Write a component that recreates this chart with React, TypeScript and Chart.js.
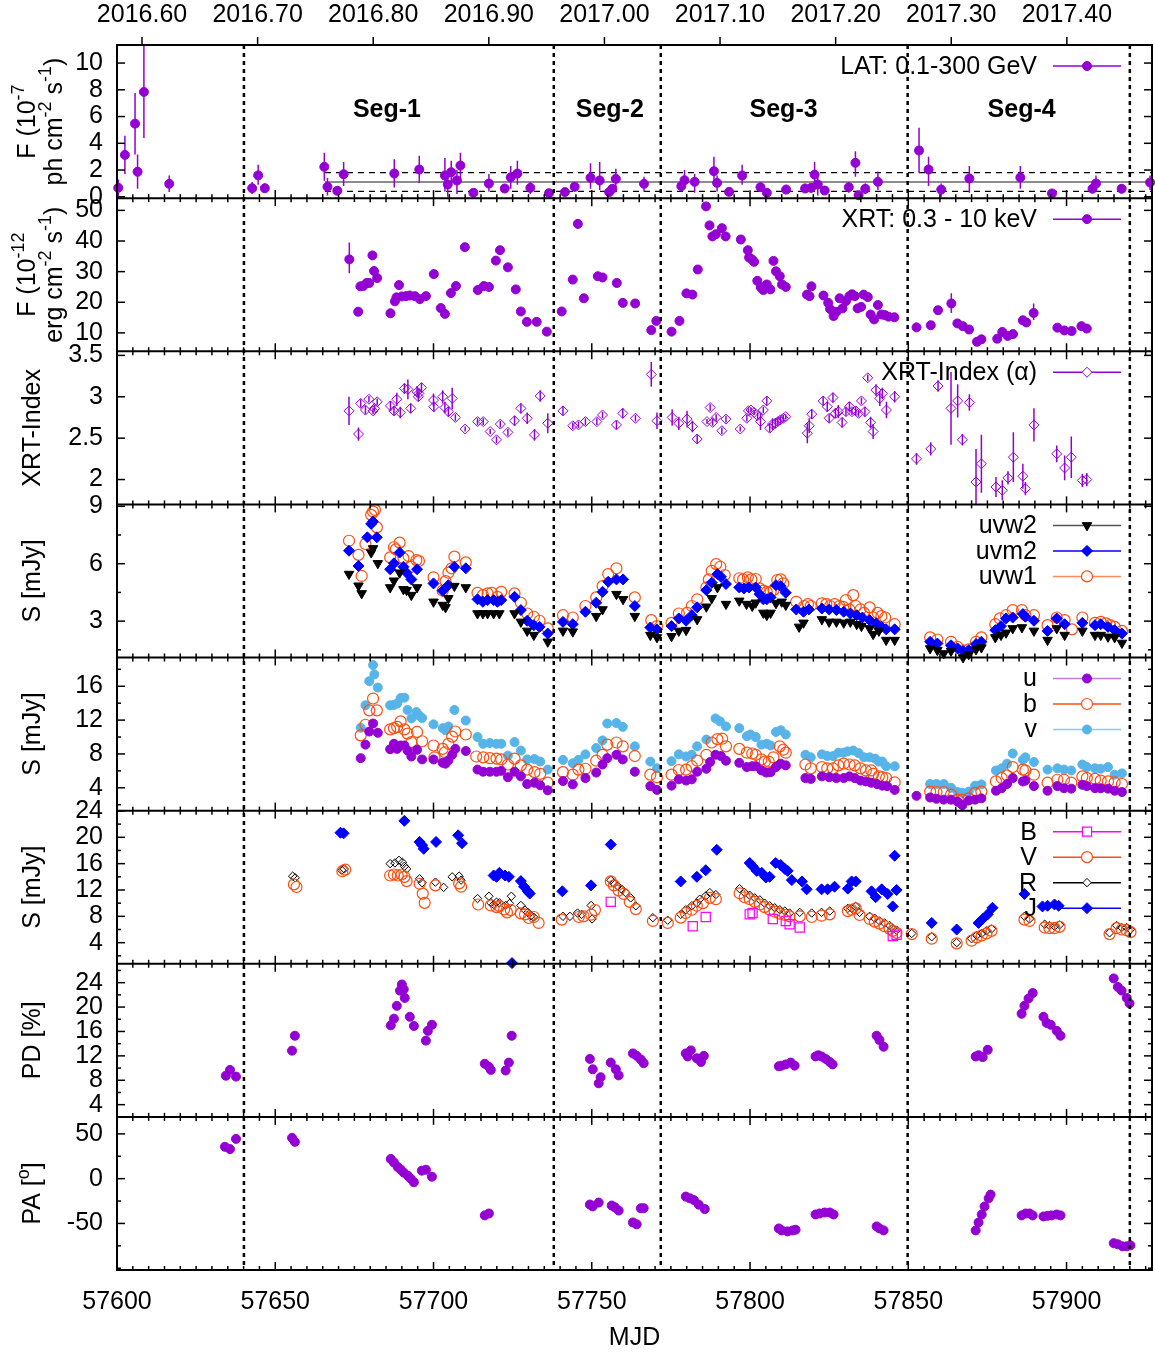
import React, { useEffect, useRef } from 'react';
import { Chart, registerables } from 'chart.js';

Chart.register(...registerables);

const W = 1155;
const H = 1354;
const FONT = '"Liberation Sans", Arial, Helvetica, sans-serif';
const FS = 25;

// ---------- axes ----------
const X_MIN = 57600;
const X_MAX = 57927;
const X_MAJOR = [57600, 57650, 57700, 57750, 57800, 57850, 57900];
const X_MINOR_STEP = 5;
const YEAR_TICKS = [2016.6, 2016.7, 2016.8, 2016.9, 2017.0, 2017.1, 2017.2, 2017.3, 2017.4];
const MJD_2017 = 57754;
const SEG_BOUNDS = [57640.1, 57738.0, 57771.8, 57849.8, 57920.0];
const SEG_LABELS = ['Seg-1', 'Seg-2', 'Seg-3', 'Seg-4'];
const SEG_LABEL_MJD = [57685.3, 57755.7, 57810.6, 57885.8];
const SEG_LABEL_Y = 6.5;
const LAT_BAND_START = 57665.7;
const LAT_MEAN = 1.1;
const LAT_UPPER = 1.8;
const LAT_LOWER = 0.4;

// ---------- data ----------
// [MJD, flux, low, high]
const LAT = [
  [57600.4, 0.67, 0.0, 1.3], [57602.5, 3.13, 1.7, 4.57], [57605.7, 5.47, 3.16, 7.76], [57606.5, 1.87, 0.6, 3.16],
  [57608.5, 7.84, 4.4, 11.4], [57616.5, 0.97, 0.35, 1.6], [57642.7, 0.64, 0.2, 1.1], [57644.6, 1.6, 0.9, 2.4],
  [57646.7, 0.64, 0.3, 1.0], [57665.5, 2.24, 1.2, 3.3], [57666.5, 0.75, 0.1, 1.4], [57669.6, 0.45, 0.2, 0.7],
  [57671.6, 1.69, 0.8, 2.6], [57687.6, 1.74, 0.7, 2.8], [57695.5, 2.04, 1.04, 3.06], [57703.6, 1.59, 0.4, 2.9],
  [57704.5, 0.92, 0.0, 1.9], [57705.6, 1.84, 0.9, 2.7], [57707.4, 1.22, 0.2, 2.0], [57708.5, 2.34, 1.2, 3.3],
  [57712.6, 0.3, 0.1, 0.5], [57717.5, 0.99, 0.4, 1.7], [57722.5, 0.62, 0.3, 0.9], [57724.4, 1.46, 0.6, 2.3],
  [57726.5, 1.74, 0.9, 2.7], [57730.6, 0.67, 0.2, 1.1], [57736.5, 0.27, 0.1, 0.4], [57741.5, 0.35, 0.2, 0.5],
  [57744.6, 0.75, 0.4, 1.1], [57749.6, 1.42, 0.6, 2.5], [57752.5, 1.22, 0.5, 2.6], [57755.5, 0.35, 0.2, 0.5],
  [57756.5, 0.6, 0.3, 0.9], [57757.6, 1.34, 0.6, 2.1], [57766.5, 0.97, 0.4, 1.5], [57778.3, 0.8, 0.4, 1.2],
  [57779.3, 1.24, 0.6, 2.0], [57782.5, 1.12, 0.3, 1.7], [57788.6, 1.91, 0.8, 3.0], [57789.6, 1.04, 0.4, 1.6],
  [57793.4, 0.37, 0.2, 0.6], [57797.5, 1.59, 0.9, 2.4], [57803.3, 0.72, 0.4, 1.1], [57805.3, 0.3, 0.1, 0.5],
  [57811.4, 0.54, 0.2, 0.9], [57817.4, 0.62, 0.3, 1.0], [57819.3, 0.67, 0.3, 1.0], [57820.4, 1.66, 0.9, 2.6],
  [57821.4, 0.92, 0.1, 1.5], [57823.6, 0.47, 0.2, 0.8], [57831.2, 0.72, 0.3, 1.1], [57833.3, 2.54, 1.5, 3.4],
  [57834.3, 0.12, 0.0, 0.3], [57836.4, 0.6, 0.2, 1.0], [57840.4, 1.12, 0.5, 1.9], [57853.4, 3.46, 1.79, 5.17],
  [57856.4, 2.04, 0.8, 3.0], [57860.4, 0.54, 0.0, 1.0], [57869.3, 1.37, 0.3, 2.3], [57885.4, 1.44, 0.6, 2.3],
  [57895.4, 0.25, 0.1, 0.4], [57908.2, 0.6, 0.3, 0.9], [57909.3, 0.99, 0.5, 1.6], [57917.4, 0.6, 0.3, 0.9],
  [57926.4, 1.07, 0.5, 1.6],
];

// [MJD, flux(1e-12)] (+ low, high where the error bar is visible)
const XRT = [
  [57673.4, 34.0, 29.5, 39.5], [57676.2, 16.9], [57676.9, 25.2], [57677.8, 25.3], [57678.9, 26.3], [57679.7, 26.3],
  [57680.7, 35.3], [57681.2, 30.2], [57682.2, 27.9], [57686.4, 16.4], [57687.8, 20.3], [57688.3, 21.6],
  [57689.1, 25.6], [57690.0, 21.9], [57691.3, 22.0], [57692.5, 22.2], [57694.1, 22.0], [57695.7, 21.0],
  [57697.6, 22.0], [57700.1, 29.2], [57702.3, 18.1], [57703.6, 16.2], [57705.5, 23.0], [57707.1, 25.3],
  [57709.9, 38.0], [57714.0, 24.0], [57715.9, 25.3], [57717.5, 25.0], [57719.7, 33.6], [57721.0, 37.0],
  [57723.5, 31.4], [57726.0, 24.2], [57727.6, 17.0], [57729.5, 13.6], [57732.6, 13.6], [57735.8, 10.4],
  [57740.5, 17.0], [57744.0, 27.4], [57745.6, 45.6, 44.0, 47.2], [57747.5, 21.3], [57751.9, 28.5], [57753.4, 28.1],
  [57757.9, 26.3], [57759.8, 19.8], [57763.7, 19.6], [57768.8, 10.9], [57770.4, 13.9], [57775.2, 10.4],
  [57777.7, 13.9], [57779.9, 22.9], [57781.8, 22.5], [57783.5, 30.7], [57786.1, 51.3], [57787.2, 45.1],
  [57788.1, 41.5], [57789.2, 42.2], [57791.1, 44.2], [57792.3, 41.5], [57797.1, 40.5], [57799.3, 37.0],
  [57799.7, 34.6], [57800.6, 34.0], [57801.3, 33.2], [57802.3, 27.0], [57803.4, 24.9], [57804.2, 24.0],
  [57805.3, 25.8], [57806.4, 24.2], [57807.4, 33.5], [57808.2, 30.1], [57809.4, 28.5], [57810.1, 25.8],
  [57811.3, 25.0], [57818.0, 22.5], [57818.8, 22.0], [57819.4, 25.2], [57823.2, 22.2], [57824.7, 19.8],
  [57825.3, 17.8], [57826.4, 15.5], [57827.3, 16.9], [57828.3, 21.3], [57829.2, 18.0], [57830.3, 20.4],
  [57831.4, 22.0], [57832.2, 22.6], [57833.1, 22.0], [57834.0, 18.0], [57835.1, 18.5], [57835.9, 22.5],
  [57837.2, 21.7], [57838.1, 16.0], [57839.2, 14.4], [57840.4, 19.1], [57841.5, 16.0], [57842.6, 15.8],
  [57843.7, 15.3], [57845.6, 15.1], [57852.6, 11.8], [57857.1, 12.5], [57859.4, 17.4], [57863.6, 19.6, 16.5, 22.9],
  [57865.5, 13.1], [57867.2, 12.2], [57869.2, 11.1], [57871.7, 7.1], [57873.1, 7.9], [57878.1, 8.1],
  [57879.7, 10.3], [57881.4, 9.0], [57883.1, 9.6], [57886.2, 14.1], [57887.3, 13.4], [57889.6, 16.5, 14.2, 19.6],
  [57897.1, 11.7], [57899.3, 10.8], [57901.6, 10.6], [57904.7, 12.2], [57906.4, 11.4],
];

// [MJD, index, error]
const XRT_INDEX = [
  [57673.3, 2.83, 0.17], [57676.3, 2.55, 0.08], [57677.0, 2.92, 0.05], [57678.5, 2.84, 0.05], [57679.6, 2.97, 0.04],
  [57680.9, 2.83, 0.04], [57681.4, 2.86, 0.04], [57682.2, 2.94, 0.04], [57686.4, 2.89, 0.06], [57687.5, 2.83, 0.06],
  [57688.4, 2.97, 0.08], [57689.5, 2.81, 0.07], [57690.8, 3.10, 0.06], [57691.9, 3.09, 0.12], [57692.8, 2.86, 0.06],
  [57694.8, 3.06, 0.07], [57695.2, 3.00, 0.05], [57695.4, 3.04, 0.05], [57696.2, 3.11, 0.06], [57700.0, 2.96, 0.08],
  [57700.1, 2.88, 0.06], [57702.9, 3.00, 0.08], [57703.6, 2.87, 0.07], [57704.7, 2.82, 0.06], [57705.9, 2.98, 0.13],
  [57706.9, 2.75, 0.04], [57710.0, 2.61, 0.03], [57713.9, 2.70, 0.04], [57715.7, 2.70, 0.04], [57717.9, 2.58, 0.03],
  [57719.9, 2.48, 0.04], [57721.1, 2.67, 0.04], [57723.5, 2.57, 0.04], [57725.6, 2.71, 0.06], [57727.6, 2.86, 0.06],
  [57729.6, 2.74, 0.07], [57731.9, 2.54, 0.07], [57733.7, 3.01, 0.07], [57736.1, 2.68, 0.12], [57740.9, 2.83, 0.06],
  [57744.0, 2.65, 0.04], [57745.8, 2.66, 0.04], [57748.0, 2.70, 0.04], [57751.6, 2.70, 0.04], [57753.4, 2.78, 0.04],
  [57757.8, 2.66, 0.05], [57759.8, 2.80, 0.06], [57763.8, 2.74, 0.04], [57768.8, 3.27, 0.15], [57770.6, 2.71, 0.1],
  [57775.4, 2.75, 0.1], [57777.5, 2.68, 0.08], [57780.1, 2.73, 0.1], [57781.8, 2.64, 0.07], [57783.3, 2.49, 0.05],
  [57786.4, 2.70, 0.03], [57787.4, 2.87, 0.04], [57788.2, 2.69, 0.04], [57789.3, 2.75, 0.04], [57791.1, 2.59, 0.04],
  [57792.4, 2.73, 0.04], [57796.9, 2.61, 0.03], [57799.0, 2.74, 0.04], [57799.5, 2.83, 0.03], [57800.3, 2.84, 0.03],
  [57801.3, 2.81, 0.03], [57802.4, 2.77, 0.04], [57803.3, 2.70, 0.1], [57804.2, 2.84, 0.04], [57805.3, 2.95, 0.05],
  [57806.2, 2.62, 0.05], [57807.1, 2.67, 0.07], [57808.0, 2.68, 0.06], [57808.8, 2.70, 0.05], [57809.6, 2.72, 0.04],
  [57810.5, 2.74, 0.04], [57811.3, 2.76, 0.03], [57818.1, 2.56, 0.12], [57818.7, 2.65, 0.09], [57819.5, 2.79, 0.06],
  [57823.1, 2.95, 0.05], [57824.4, 2.88, 0.06], [57825.0, 2.74, 0.05], [57826.2, 2.99, 0.06], [57827.0, 2.80, 0.06],
  [57827.9, 2.82, 0.08], [57829.1, 2.69, 0.06], [57830.3, 2.82, 0.05], [57831.4, 2.88, 0.06], [57832.2, 2.82, 0.04],
  [57833.4, 2.83, 0.05], [57834.3, 2.80, 0.04], [57835.2, 2.95, 0.04], [57836.3, 2.82, 0.06], [57837.2, 3.23, 0.04],
  [57838.1, 2.69, 0.07], [57838.9, 2.58, 0.09], [57839.8, 3.08, 0.07], [57841.0, 2.98, 0.09], [57841.8, 3.04, 0.07],
  [57843.1, 2.84, 0.1], [57845.7, 3.00, 0.07], [57852.6, 2.25, 0.07], [57857.1, 2.37, 0.08], [57859.4, 3.13, 0.07],
  [57863.5, 2.86, 0.44], [57865.6, 2.95, 0.2], [57867.1, 2.48, 0.07], [57869.3, 2.93, 0.1], [57871.4, 1.97, 0.4],
  [57873.1, 2.19, 0.35], [57877.7, 1.91, 0.12], [57879.7, 1.87, 0.12], [57881.5, 2.02, 0.08], [57883.2, 2.27, 0.3],
  [57886.2, 2.04, 0.15], [57887.0, 1.89, 0.08], [57889.7, 2.66, 0.2], [57896.9, 2.31, 0.1], [57899.4, 2.14, 0.15],
  [57901.5, 2.27, 0.25], [57905.0, 1.99, 0.08], [57906.4, 2.00, 0.08],
];

// [MJD, mJy]
const UVW2 = [
  [57673.3, 5.46], [57676.3, 4.85], [57677.3, 4.45], [57680.3, 6.58], [57680.9, 6.8], [57682.4, 6.02], [57686.3, 4.76],
  [57687.5, 5.11], [57689.3, 5.53], [57690.5, 4.66], [57691.5, 4.62], [57693.0, 4.36], [57694.8, 4.76], [57700.0, 4.01],
  [57702.9, 3.84], [57703.8, 3.72], [57704.7, 4.19], [57706.6, 4.83], [57710.2, 4.76], [57713.9, 3.4], [57715.6, 3.4],
  [57717.1, 3.4], [57719.0, 3.4], [57720.8, 3.4], [57725.6, 3.4], [57727.6, 2.96], [57729.6, 2.49], [57731.7, 2.27],
  [57736.1, 1.92], [57740.9, 2.49], [57744.0, 2.45], [57751.4, 3.26], [57753.4, 3.61], [57757.8, 4.41], [57759.9, 4.14],
  [57763.6, 3.26], [57768.5, 2.27], [57770.6, 2.15], [57775.2, 2.21], [57777.5, 2.49], [57779.8, 2.53], [57783.3, 3.09],
  [57786.2, 3.75], [57787.9, 4.19], [57789.7, 4.76], [57792.4, 3.89], [57796.6, 4.06], [57798.9, 3.89], [57800.7, 3.79],
  [57801.8, 3.96], [57804.2, 3.43], [57805.3, 3.31], [57806.5, 3.43], [57808.2, 3.93], [57810.0, 4.01], [57811.3, 3.84],
  [57815.5, 2.70], [57816.9, 2.91], [57822.7, 3.09], [57825.0, 2.96], [57827.3, 2.96], [57829.6, 2.91], [57831.7, 2.96],
  [57833.7, 2.84], [57835.2, 2.74], [57837.8, 2.62], [57838.9, 2.32], [57840.7, 2.49], [57843.0, 2.01], [57845.7, 2.01],
  [57856.9, 1.57], [57859.2, 1.48], [57861.2, 1.31], [57863.5, 1.44], [57867.3, 1.10], [57869.1, 1.27], [57871.4, 1.52],
  [57873.1, 1.62], [57877.5, 2.15], [57879.3, 2.27], [57880.9, 2.39], [57883.0, 2.62], [57885.9, 2.67], [57889.7, 2.49],
  [57894.0, 2.01], [57896.9, 2.62], [57899.4, 2.27], [57905.0, 2.49], [57909.0, 2.27], [57910.8, 2.27], [57913.1, 2.18],
  [57915.2, 2.15], [57917.5, 1.86],
];
const UVM2 = [
  [57673.3, 6.68], [57676.3, 5.88], [57679.1, 7.38], [57680.3, 8.08], [57680.9, 8.2], [57682.1, 7.38], [57686.3, 5.71],
  [57687.5, 6.02], [57689.3, 6.58], [57690.5, 5.84], [57691.5, 5.53], [57693.0, 5.18], [57694.8, 5.71], [57700.0, 4.97],
  [57702.9, 4.59], [57704.7, 4.88], [57706.6, 5.84], [57710.2, 5.76], [57713.9, 4.14], [57715.6, 4.01], [57717.1, 4.1],
  [57719.0, 4.1], [57720.2, 4.01], [57721.4, 4.1], [57725.6, 4.27], [57727.6, 3.58], [57729.6, 3.02], [57731.7, 2.79],
  [57733.5, 2.70], [57736.1, 2.35], [57740.9, 2.96], [57744.0, 2.84], [57748.0, 3.49], [57751.4, 3.96], [57753.4, 4.53],
  [57755.2, 5.06], [57757.8, 5.18], [57759.9, 5.18], [57763.6, 3.79], [57768.5, 2.67], [57770.6, 2.57], [57775.2, 2.74],
  [57777.5, 3.14], [57779.8, 3.02], [57781.6, 3.31], [57783.3, 3.72], [57786.2, 4.62], [57787.9, 5.01], [57789.7, 5.46],
  [57790.8, 5.32], [57792.4, 4.94], [57796.6, 4.76], [57798.1, 4.71], [57799.7, 4.76], [57801.8, 4.76], [57803.0, 4.41],
  [57804.2, 4.14], [57805.3, 4.14], [57806.5, 4.24], [57808.2, 4.88], [57809.7, 4.83], [57811.3, 4.48], [57814.6, 3.61],
  [57816.9, 3.49], [57818.6, 3.61], [57822.7, 3.66], [57825.0, 3.61], [57827.3, 3.58], [57829.6, 3.49], [57831.7, 3.40],
  [57833.7, 3.31], [57835.5, 3.19], [57837.8, 3.05], [57839.9, 2.88], [57841.5, 2.70], [57843.0, 2.57], [57845.7, 2.57],
  [57856.9, 1.92], [57859.2, 1.83], [57863.5, 1.74], [57865.6, 1.57], [57867.3, 1.44], [57869.1, 1.48], [57871.4, 1.80],
  [57873.1, 1.92], [57877.5, 2.53], [57879.3, 2.74], [57880.9, 3.14], [57883.0, 3.19], [57886.2, 3.37], [57887.0, 3.23],
  [57889.7, 3.02], [57894.0, 2.49], [57896.9, 3.14], [57899.4, 2.84], [57905.0, 2.91], [57909.0, 2.79], [57910.8, 2.84],
  [57913.1, 2.70], [57915.2, 2.53], [57917.5, 2.35],
];
const UVW1 = [
  [57673.3, 7.2], [57676.3, 6.46], [57677.3, 5.36], [57678.5, 7.03], [57680.3, 8.55], [57680.9, 8.72], [57681.5, 8.81],
  [57682.1, 7.9], [57686.3, 6.33], [57687.5, 6.86], [57688.1, 6.75], [57689.3, 7.1], [57690.5, 6.28], [57692.1, 6.4],
  [57693.0, 5.84], [57694.6, 6.19], [57695.4, 6.14], [57700.0, 5.29], [57702.9, 4.59], [57703.8, 5.09], [57704.7, 5.53],
  [57705.7, 5.76], [57706.6, 6.37], [57710.2, 6.07], [57713.9, 4.48], [57715.6, 4.36], [57717.1, 4.45], [57718.4, 4.48],
  [57720.2, 4.27], [57721.4, 4.53], [57725.6, 4.45], [57727.6, 3.96], [57729.6, 3.4], [57731.7, 3.23], [57733.5, 3.02],
  [57736.1, 2.62], [57740.9, 3.31], [57744.0, 3.19], [57748.0, 3.79], [57751.4, 4.24], [57753.4, 4.83], [57755.2, 5.46],
  [57757.8, 5.76], [57763.6, 4.24], [57768.8, 3.05], [57770.6, 2.74], [57775.2, 2.91], [57777.5, 3.40], [57780.1, 3.43],
  [57781.6, 3.79], [57783.3, 4.14], [57786.2, 4.76], [57787.0, 5.18], [57787.9, 5.63], [57789.3, 5.98], [57790.6, 5.84],
  [57792.0, 5.41], [57796.6, 5.24], [57797.8, 5.18], [57799.3, 5.29], [57800.4, 5.18], [57801.8, 5.20], [57803.0, 4.71],
  [57804.2, 4.59], [57805.3, 4.53], [57806.5, 4.53], [57807.4, 4.62], [57808.6, 5.15], [57809.7, 5.18], [57810.5, 4.97],
  [57814.6, 4.01], [57817.1, 3.79], [57818.3, 3.89], [57819.2, 3.79], [57822.7, 3.93], [57824.1, 3.89], [57825.3, 3.79],
  [57826.7, 3.89], [57828.3, 3.79], [57829.4, 3.75], [57830.3, 4.10], [57831.4, 3.61], [57832.6, 4.36], [57833.4, 3.79],
  [57834.9, 3.61], [57836.0, 3.43], [57837.8, 3.72], [57838.9, 3.19], [57840.3, 3.43], [57841.5, 3.26], [57842.7, 3.19],
  [57845.7, 2.84], [57856.9, 2.15], [57859.2, 2.04], [57863.5, 1.92], [57865.6, 1.65], [57867.3, 1.48], [57869.1, 1.52],
  [57871.4, 1.92], [57873.1, 2.15], [57877.5, 2.84], [57878.9, 3.14], [57880.9, 3.31], [57883.0, 3.58], [57885.9, 3.58],
  [57887.0, 3.31], [57889.7, 3.31], [57894.0, 2.79], [57896.9, 3.19], [57899.4, 3.05], [57901.7, 2.57], [57905.0, 3.19],
  [57909.0, 2.91], [57910.8, 2.96], [57912.5, 2.88], [57913.7, 2.79], [57915.2, 2.70], [57917.5, 2.49],
];

const U_BAND = [
  [57677.0, 7.5], [57678.5, 9.1], [57679.7, 10.65], [57680.9, 11.6], [57682.4, 10.5], [57686.3, 8.55], [57687.5, 9.2],
  [57688.5, 8.6], [57689.6, 9.0], [57690.8, 9.0], [57691.8, 8.4], [57693.0, 7.7], [57694.8, 8.5], [57696.4, 7.35],
  [57700.0, 7.35], [57702.9, 6.95], [57703.8, 6.85], [57704.7, 7.25], [57705.9, 7.9], [57706.9, 8.6], [57710.2, 8.35],
  [57713.9, 6.15], [57715.7, 5.9], [57717.8, 5.9], [57719.9, 5.9], [57721.4, 6.0], [57723.5, 5.25], [57725.6, 5.9],
  [57727.6, 5.35], [57729.6, 4.45], [57731.9, 4.6], [57733.7, 4.3], [57736.1, 3.7], [57740.9, 4.8], [57744.0, 4.4],
  [57748.0, 5.15], [57751.4, 5.8], [57753.4, 6.75], [57754.9, 7.5], [57757.8, 7.9], [57759.8, 7.35], [57763.6, 5.9],
  [57768.5, 4.2], [57770.6, 3.75], [57775.2, 4.25], [57777.5, 5.0], [57779.8, 4.85], [57781.6, 5.0], [57783.3, 5.9],
  [57786.2, 6.25], [57787.4, 7.05], [57789.1, 7.9], [57790.8, 7.75], [57792.4, 7.2], [57796.6, 6.95], [57799.0, 6.45],
  [57800.7, 6.55], [57801.8, 6.55], [57803.6, 6.05], [57805.1, 5.8], [57806.5, 5.85], [57808.2, 6.45], [57809.7, 6.85],
  [57811.3, 6.65], [57817.5, 5.15], [57819.2, 5.05], [57822.7, 5.35], [57825.0, 5.25], [57827.3, 5.15], [57829.6, 5.15],
  [57831.4, 5.35], [57833.1, 5.15], [57834.9, 4.85], [57836.6, 4.75], [57838.3, 4.6], [57840.1, 4.45], [57841.8, 4.25],
  [57843.3, 4.2], [57845.7, 3.75], [57852.6, 3.05], [57856.9, 2.85], [57858.9, 2.7], [57861.2, 2.6], [57863.5, 2.6],
  [57865.6, 2.35], [57867.1, 1.95], [57869.1, 2.5], [57871.1, 2.6], [57873.1, 2.75], [57877.7, 3.65], [57879.5, 3.95],
  [57881.2, 4.45], [57883.0, 5.15], [57886.2, 4.75], [57887.0, 4.85], [57889.7, 4.2], [57894.0, 3.65], [57897.1, 4.2],
  [57899.2, 3.95], [57901.5, 3.9], [57905.0, 4.35], [57906.4, 4.2], [57909.0, 3.95], [57910.8, 3.95], [57913.1, 3.9],
  [57915.2, 3.65], [57917.5, 3.5],
];
const B_BAND = [
  [57677.0, 10.2], [57678.5, 11.45], [57679.7, 13.15], [57680.9, 14.55], [57682.1, 13.15], [57686.3, 10.9], [57687.5, 11.05],
  [57688.5, 11.2], [57689.6, 11.85], [57690.8, 10.9], [57691.8, 10.4], [57693.0, 9.4], [57694.8, 10.6], [57696.4, 9.5],
  [57700.0, 9.0], [57700.3, 7.6], [57702.9, 8.6], [57703.6, 8.2], [57704.7, 9.2], [57705.9, 10.05], [57706.9, 10.65],
  [57710.2, 10.3], [57713.5, 7.7], [57715.7, 7.6], [57717.8, 7.5], [57719.9, 7.45], [57721.4, 7.35], [57723.5, 6.75],
  [57725.6, 7.45], [57727.6, 6.65], [57729.6, 6.15], [57731.9, 5.85], [57733.7, 5.65], [57736.1, 4.6], [57740.9, 5.85],
  [57744.0, 5.55], [57745.8, 6.15], [57748.0, 6.25], [57751.4, 7.2], [57753.4, 7.9], [57754.9, 9.1], [57757.8, 9.35],
  [57759.8, 8.9], [57763.6, 7.75], [57768.5, 5.55], [57770.6, 5.25], [57775.2, 5.55], [57777.5, 6.1], [57779.8, 6.15],
  [57781.6, 6.55], [57783.3, 7.2], [57786.2, 7.9], [57787.9, 9.35], [57789.7, 9.75], [57791.2, 9.8], [57792.4, 8.9],
  [57796.6, 8.6], [57799.0, 8.15], [57800.7, 8.05], [57801.8, 7.9], [57803.6, 7.35], [57804.7, 7.1], [57805.9, 7.1],
  [57807.4, 7.6], [57809.4, 8.9], [57810.5, 8.5], [57811.3, 8.15], [57817.5, 6.75], [57819.2, 6.3], [57822.7, 6.45],
  [57824.4, 6.3], [57826.2, 6.3], [57827.9, 6.65], [57829.6, 6.85], [57831.4, 6.75], [57833.1, 6.65], [57834.9, 6.3],
  [57836.6, 6.05], [57838.3, 6.05], [57838.9, 5.65], [57840.7, 5.35], [57841.8, 5.25], [57843.0, 5.15], [57845.7, 4.65],
  [57856.9, 3.55], [57858.9, 3.5], [57861.2, 3.5], [57863.5, 3.2], [57865.6, 2.6], [57867.1, 2.6], [57869.1, 2.75],
  [57871.1, 3.4], [57873.1, 3.55], [57877.7, 4.75], [57879.5, 5.15], [57881.2, 5.45], [57883.0, 6.45], [57886.2, 6.15],
  [57887.0, 6.05], [57889.7, 5.55], [57894.0, 4.6], [57897.1, 4.95], [57899.2, 4.95], [57901.5, 4.6], [57905.0, 5.35],
  [57906.4, 5.15], [57909.0, 5.05], [57910.8, 4.85], [57913.1, 4.75], [57915.2, 4.65], [57917.5, 4.45],
];
const V_BAND = [
  [57677.0, 11.1], [57678.5, 13.75], [57679.7, 16.6], [57680.9, 18.5], [57681.3, 17.4], [57682.4, 15.85], [57686.3, 13.75],
  [57687.5, 13.8], [57688.5, 13.95], [57689.6, 14.6], [57690.8, 14.65], [57691.8, 13.2], [57693.0, 12.2], [57694.6, 12.95],
  [57695.4, 12.55], [57696.4, 12.25], [57700.0, 11.5], [57702.9, 11.05], [57703.8, 10.8], [57704.7, 11.25], [57706.6, 13.2],
  [57710.2, 11.95], [57713.9, 10.0], [57715.7, 9.2], [57717.8, 9.3], [57719.9, 9.2], [57721.4, 9.2], [57723.5, 7.8],
  [57725.6, 9.4], [57727.6, 8.4], [57729.6, 7.35], [57731.9, 7.4], [57733.7, 7.1], [57736.1, 6.15], [57740.9, 7.3],
  [57744.0, 6.9], [57745.8, 7.3], [57748.0, 7.95], [57751.4, 8.7], [57753.4, 9.6], [57754.9, 11.6], [57757.8, 11.65],
  [57759.8, 11.2], [57763.6, 8.9], [57768.5, 7.1], [57770.6, 6.3], [57775.2, 7.15], [57777.5, 7.95], [57779.8, 7.7],
  [57781.6, 7.9], [57783.3, 8.9], [57786.2, 9.7], [57789.1, 12.2], [57790.5, 11.85], [57792.4, 11.25], [57796.6, 11.05],
  [57799.0, 10.1], [57800.1, 10.3], [57801.8, 10.0], [57803.6, 9.1], [57805.3, 9.2], [57806.5, 9.0], [57808.2, 10.6],
  [57809.7, 10.8], [57811.3, 10.3], [57817.5, 7.9], [57819.2, 7.6], [57822.7, 7.95], [57824.4, 7.75], [57826.2, 7.75],
  [57827.9, 8.15], [57829.6, 8.15], [57830.8, 8.3], [57832.6, 8.4], [57834.3, 8.1], [57836.0, 7.6], [57837.8, 7.6],
  [57839.5, 7.45], [57840.7, 7.1], [57841.8, 7.1], [57843.0, 6.55], [57845.7, 6.55], [57856.9, 4.45], [57858.9, 4.45],
  [57861.2, 4.45], [57863.5, 4.0], [57865.6, 3.5], [57867.1, 3.4], [57869.1, 3.55], [57871.1, 4.25], [57873.1, 4.4],
  [57877.7, 6.05], [57879.5, 6.3], [57881.2, 6.85], [57883.0, 8.05], [57886.2, 7.3], [57887.0, 7.6], [57889.7, 7.05],
  [57894.0, 6.15], [57897.1, 6.3], [57899.2, 6.15], [57901.5, 6.05], [57905.0, 6.75], [57906.4, 6.45], [57909.0, 6.3],
  [57910.8, 6.25], [57913.1, 6.45], [57915.2, 5.55], [57917.5, 5.7],
];

const B_OPT = [
  [57756.0, 10.2], [57781.9, 6.5], [57786.0, 7.9], [57799.9, 8.3], [57800.8, 8.5], [57807.2, 7.6], [57811.3, 7.3],
  [57812.5, 6.8], [57815.7, 6.3], [57845.1, 5.0], [57846.3, 5.2],
];
const V_OPT = [
  [57655.9, 12.85], [57656.7, 12.45], [57671.2, 14.85], [57672.1, 15.1], [57686.3, 14.2], [57687.5, 14.35], [57688.7, 14.2],
  [57689.9, 14.35], [57690.8, 14.0], [57691.5, 13.35], [57695.6, 12.95], [57696.6, 11.45], [57697.2, 10.05], [57700.6, 12.7],
  [57708.1, 13.0], [57708.7, 12.5], [57714.1, 9.8], [57718.1, 9.65], [57719.9, 9.4], [57720.8, 9.55], [57722.3, 9.05],
  [57723.2, 8.6], [57724.4, 8.95], [57727.6, 8.45], [57728.9, 8.3], [57730.1, 7.75], [57731.7, 7.9], [57733.2, 7.0],
  [57740.5, 7.5], [57745.9, 7.9], [57747.4, 8.0], [57749.8, 8.25], [57751.0, 8.95], [57756.0, 13.3], [57757.0, 12.7],
  [57758.5, 11.9], [57760.1, 11.4], [57762.0, 10.2], [57763.9, 9.1], [57769.3, 7.3], [57774.0, 7.0], [57778.1, 7.8],
  [57779.7, 8.5], [57781.6, 9.0], [57783.2, 9.6], [57785.1, 10.0], [57787.3, 10.8], [57789.2, 10.6], [57796.7, 11.5],
  [57798.3, 10.9], [57799.9, 10.6], [57801.5, 10.2], [57803.1, 9.8], [57804.6, 9.4], [57806.2, 9.0], [57807.8, 8.7],
  [57809.4, 8.4], [57811.0, 8.2], [57812.5, 8.0], [57815.7, 8.0], [57819.5, 7.9], [57822.6, 8.1], [57825.2, 8.3],
  [57830.9, 8.8], [57832.1, 9.0], [57833.4, 9.2], [57834.6, 8.2], [57837.8, 7.6], [57839.4, 7.2], [57840.9, 6.9],
  [57842.5, 6.5], [57844.1, 6.1], [57845.1, 5.8], [57846.3, 5.5], [57851.1, 5.3], [57857.4, 4.6], [57865.3, 3.9],
  [57870.0, 4.3], [57871.6, 4.8], [57873.2, 5.1], [57874.7, 5.4], [57876.3, 5.8], [57886.7, 7.5], [57888.3, 7.3],
  [57893.1, 6.3], [57894.6, 6.2], [57896.2, 6.2], [57897.8, 6.4], [57913.6, 5.3], [57915.8, 6.2], [57917.4, 6.0],
  [57919.0, 5.9], [57920.2, 5.6],
];
const R_OPT = [
  [57655.5, 14.1], [57656.3, 13.85], [57671.0, 15.0], [57671.8, 15.2], [57686.3, 16.0], [57687.8, 16.1], [57689.1, 16.5],
  [57690.2, 16.2], [57690.8, 15.6], [57691.5, 15.2], [57695.6, 13.7], [57696.4, 13.1], [57700.6, 13.2], [57703.2, 12.4],
  [57705.9, 14.0], [57708.1, 14.1], [57708.7, 13.5], [57713.9, 10.7], [57717.5, 11.05], [57718.1, 10.05], [57719.0, 9.8],
  [57719.9, 10.15], [57720.8, 10.05], [57722.8, 9.65], [57724.0, 9.95], [57724.6, 11.05], [57727.6, 9.65], [57728.9, 8.95],
  [57729.8, 8.6], [57730.8, 8.1], [57731.7, 7.85], [57740.9, 8.0], [57743.1, 8.0], [57745.5, 8.5], [57746.8, 8.3],
  [57749.8, 9.65], [57750.1, 7.6], [57756.0, 13.5], [57757.0, 13.0], [57758.2, 12.6], [57759.5, 12.1], [57760.7, 11.6],
  [57762.3, 10.8], [57763.9, 9.6], [57769.3, 7.8], [57774.0, 7.4], [57778.1, 8.3], [57779.7, 9.0], [57781.6, 9.6],
  [57783.2, 10.0], [57784.1, 10.6], [57786.0, 11.1], [57787.3, 11.6], [57789.2, 11.3], [57796.7, 12.2], [57798.3, 11.6],
  [57799.9, 11.2], [57801.5, 10.8], [57803.1, 10.5], [57804.6, 10.0], [57806.2, 9.6], [57807.8, 9.3], [57809.4, 9.0],
  [57811.0, 8.8], [57812.5, 8.5], [57815.7, 8.6], [57819.5, 8.5], [57822.6, 8.6], [57825.2, 8.8], [57830.9, 9.2],
  [57832.1, 9.2], [57833.4, 9.5], [57834.6, 8.6], [57837.8, 8.0], [57839.4, 7.7], [57840.9, 7.3], [57842.5, 7.0],
  [57844.1, 6.6], [57845.1, 6.2], [57846.3, 5.9], [57851.1, 5.4], [57857.4, 4.9], [57865.3, 4.0], [57870.0, 4.6],
  [57871.6, 5.1], [57873.2, 5.4], [57874.7, 5.8], [57876.3, 6.1], [57886.7, 8.0], [57888.3, 7.6], [57893.1, 6.8],
  [57894.6, 6.6], [57896.2, 6.5], [57897.8, 6.7], [57913.6, 5.5], [57915.8, 6.6], [57917.4, 6.3], [57919.0, 6.3],
  [57920.2, 6.0],
];
const J_OPT = [
  [57670.6, 20.7], [57671.6, 20.6], [57690.8, 22.5], [57695.6, 19.3], [57696.4, 18.8], [57696.9, 18.25], [57700.8, 19.3],
  [57707.8, 20.3], [57709.0, 19.1], [57719.0, 14.2], [57719.9, 14.0], [57720.8, 14.6], [57722.6, 14.2], [57723.8, 14.0],
  [57724.8, 0.9], [57727.6, 13.35], [57728.6, 12.5], [57729.8, 11.8], [57730.4, 11.45], [57740.7, 11.8], [57749.8, 12.7],
  [57756.0, 18.9], [57778.1, 13.3], [57783.2, 14.0], [57786.0, 15.0], [57789.5, 18.1], [57799.9, 16.1], [57800.8, 15.6],
  [57802.1, 14.9], [57803.7, 14.6], [57805.0, 13.9], [57806.2, 14.0], [57808.1, 16.1], [57809.7, 15.8], [57811.0, 15.2],
  [57811.9, 14.9], [57813.2, 13.5], [57816.4, 13.3], [57817.9, 12.1], [57822.6, 12.1], [57824.5, 12.1], [57826.7, 12.5],
  [57830.9, 12.2], [57832.1, 13.3], [57833.4, 13.3], [57838.4, 11.8], [57839.7, 10.9], [57841.6, 12.1], [57843.5, 11.4],
  [57845.1, 9.5], [57845.7, 17.2], [57846.3, 12.0], [57857.4, 7.0], [57865.3, 6.0], [57872.2, 7.0], [57873.5, 7.6],
  [57875.1, 8.3], [57876.6, 9.3], [57886.7, 11.4], [57892.4, 9.5], [57894.0, 9.6], [57896.2, 9.8], [57897.5, 9.6],
];

const PD = [
  [57634.4, 8.75], [57635.7, 9.7], [57637.6, 8.6], [57655.3, 12.85], [57656.2, 15.3], [57686.5, 17.0], [57687.5, 18.1],
  [57688.4, 20.2], [57689.4, 22.7], [57690.0, 23.7], [57690.6, 22.9], [57690.9, 21.5], [57692.5, 18.4], [57693.8, 16.9],
  [57697.6, 14.5], [57698.2, 16.1], [57699.5, 17.1], [57716.2, 10.7], [57717.5, 10.2], [57718.1, 9.7], [57722.8, 9.6],
  [57723.8, 10.9], [57724.7, 15.3], [57749.4, 11.5], [57750.3, 9.8], [57752.2, 7.5], [57752.8, 8.5], [57756.0, 10.9],
  [57757.6, 9.8], [57758.5, 8.8], [57763.0, 12.4], [57764.2, 12.0], [57765.5, 11.4], [57766.4, 10.8], [57779.7, 12.4],
  [57780.3, 11.9], [57781.3, 12.9], [57783.2, 11.6], [57784.5, 11.0], [57785.4, 12.0], [57809.1, 10.3], [57810.0, 10.4],
  [57811.3, 10.6], [57812.9, 10.9], [57814.1, 10.4], [57820.7, 11.9], [57821.6, 12.1], [57822.6, 11.9], [57823.9, 11.5],
  [57825.2, 11.0], [57826.1, 10.6], [57840.0, 15.3], [57840.9, 14.6], [57842.2, 13.5], [57871.3, 11.9], [57872.2, 12.1],
  [57873.5, 11.8], [57875.1, 13.0], [57885.8, 18.9], [57886.7, 20.2], [57888.0, 21.4], [57889.3, 22.3], [57892.7, 18.4],
  [57893.7, 17.4], [57895.0, 17.1], [57896.9, 16.1], [57898.1, 15.3], [57914.9, 24.7], [57916.2, 23.3], [57917.4, 22.7],
  [57919.0, 21.5], [57919.9, 20.6],
];
const PA = [
  [57634.1, 35.6], [57635.7, 33.0], [57637.6, 44.4], [57655.3, 45.6], [57656.2, 41.1], [57686.5, 22.0], [57687.5, 18.0],
  [57688.7, 13.0], [57689.7, 10.0], [57690.6, 6.7], [57691.9, 3.3], [57692.8, 0.0], [57693.8, -4.0], [57696.3, 8.9],
  [57697.6, 10.0], [57699.5, 2.2], [57716.2, -41.0], [57717.5, -38.9], [57749.4, -28.9], [57750.3, -31.0], [57752.2, -26.7],
  [57756.3, -30.0], [57757.3, -32.0], [57758.5, -35.6], [57763.0, -48.9], [57764.2, -51.0], [57765.5, -33.0], [57766.4, -33.0],
  [57779.7, -20.0], [57781.0, -22.0], [57782.3, -24.0], [57783.8, -29.0], [57785.7, -34.0], [57809.1, -55.6], [57810.0, -57.8],
  [57811.9, -58.9], [57813.5, -57.8], [57814.4, -57.0], [57820.7, -40.0], [57822.0, -38.9], [57823.6, -37.8], [57825.2, -37.8],
  [57826.4, -40.0], [57840.0, -53.3], [57840.9, -55.6], [57842.2, -57.8], [57871.3, -57.8], [57872.2, -48.9], [57873.2, -40.0],
  [57874.1, -31.0], [57875.4, -22.0], [57876.0, -17.8], [57885.8, -41.0], [57887.1, -38.9], [57888.3, -38.9], [57889.3, -41.0],
  [57892.7, -42.2], [57894.0, -41.5], [57895.3, -41.0], [57896.9, -40.0], [57898.1, -41.0], [57914.9, -72.0], [57916.2, -73.3],
  [57917.7, -75.6], [57919.0, -75.6], [57920.2, -74.5],
];

// ---------- styles ----------
const PURPLE = '#9400d3';
const ORANGE = '#ff4d0f';
const BLUE = '#0000ff';
const SKY = '#56b4e9';
const MAGENTA = '#ff00ff';
const BLACK = '#000000';

type Seg = { t: string; s?: boolean };
const PANELS = [
  { id: 'p0', min: -0.1, max: 11.35, major: [0, 2, 4, 6, 8, 10], minor: [] as number[],
    title: [[{ t: 'F (10' }, { t: '-7', s: true }], [{ t: 'ph cm' }, { t: '-2', s: true }, { t: ' s' }, { t: '-1', s: true }, { t: ')' }]] as Seg[][] },
  { id: 'p1', min: 4, max: 54, major: [10, 20, 30, 40, 50], minor: [] as number[],
    title: [[{ t: 'F (10' }, { t: '-12', s: true }], [{ t: 'erg cm' }, { t: '-2', s: true }, { t: ' s' }, { t: '-1', s: true }, { t: ')' }]] as Seg[][] },
  { id: 'p2', min: 1.7, max: 3.55, major: [2, 2.5, 3, 3.5], minor: [] as number[], title: [[{ t: 'XRT-Index' }]] as Seg[][] },
  { id: 'p3', min: 1.1, max: 9.1, major: [3, 6, 9], minor: [1.5, 4.5, 7.5], title: [[{ t: 'S [mJy]' }]] as Seg[][] },
  { id: 'p4', min: 1.3, max: 19.4, major: [4, 8, 12, 16], minor: [2, 6, 10, 14, 18], title: [[{ t: 'S [mJy]' }]] as Seg[][] },
  { id: 'p5', min: 0.8, max: 24.05, major: [4, 8, 12, 16, 20, 24], minor: [2, 6, 10, 14, 18, 22], title: [[{ t: 'S [mJy]' }]] as Seg[][] },
  { id: 'p6', min: 2, max: 27.1, major: [4, 8, 12, 16, 20, 24], minor: [6, 10, 14, 18, 22, 26], title: [[{ t: 'PD [%]' }]] as Seg[][] },
  { id: 'p7', min: -102, max: 69, major: [-50, 0, 50], minor: [-100, -75, -25, 25], title: [[{ t: 'PA [' }, { t: 'o', s: true }, { t: ']' }]] as Seg[][] },
];

type Shape = 'circle' | 'triDown' | 'diamond' | 'square';
type Series = { panel: number; label: string | null; rows: number[][]; err: 'lohi' | 'pm' | null; shape: Shape; color: string; keyLine: string; r: number; filled: boolean; lw: number };

const SERIES: Series[] = [
  { panel: 0, label: 'LAT: 0.1-300 GeV', rows: LAT, err: 'lohi', shape: 'circle', color: PURPLE, keyLine: PURPLE, r: 4.5, filled: true, lw: 1 },
  { panel: 1, label: 'XRT: 0.3 - 10 keV', rows: XRT, err: 'lohi', shape: 'circle', color: PURPLE, keyLine: PURPLE, r: 4.5, filled: true, lw: 1 },
  { panel: 2, label: 'XRT-Index (\u03b1)', rows: XRT_INDEX, err: 'pm', shape: 'diamond', color: PURPLE, keyLine: PURPLE, r: 5, filled: false, lw: 1 },
  { panel: 3, label: 'uvw2', rows: UVW2, err: null, shape: 'triDown', color: BLACK, keyLine: '#555555', r: 5.5, filled: true, lw: 1 },
  { panel: 3, label: 'uvm2', rows: UVM2, err: null, shape: 'diamond', color: BLUE, keyLine: BLUE, r: 5.5, filled: true, lw: 1 },
  { panel: 3, label: 'uvw1', rows: UVW1, err: null, shape: 'circle', color: ORANGE, keyLine: '#ff8a5c', r: 5.5, filled: false, lw: 1.2 },
  { panel: 4, label: 'u', rows: U_BAND, err: null, shape: 'circle', color: PURPLE, keyLine: '#c27ce8', r: 4.5, filled: true, lw: 1 },
  { panel: 4, label: 'b', rows: B_BAND, err: null, shape: 'circle', color: ORANGE, keyLine: ORANGE, r: 5.5, filled: false, lw: 1.2 },
  { panel: 4, label: 'v', rows: V_BAND, err: null, shape: 'circle', color: SKY, keyLine: '#8ccbf0', r: 4.5, filled: true, lw: 1 },
  { panel: 5, label: 'B', rows: B_OPT, err: null, shape: 'square', color: MAGENTA, keyLine: MAGENTA, r: 6.5, filled: false, lw: 1.2 },
  { panel: 5, label: 'V', rows: V_OPT, err: null, shape: 'circle', color: ORANGE, keyLine: ORANGE, r: 5.5, filled: false, lw: 1.2 },
  { panel: 5, label: 'R', rows: R_OPT, err: null, shape: 'diamond', color: BLACK, keyLine: BLACK, r: 4.2, filled: false, lw: 1 },
  { panel: 5, label: 'J', rows: J_OPT, err: null, shape: 'diamond', color: BLUE, keyLine: BLUE, r: 5.5, filled: true, lw: 1 },
  { panel: 6, label: null, rows: PD, err: null, shape: 'circle', color: PURPLE, keyLine: PURPLE, r: 4.5, filled: true, lw: 1 },
  { panel: 7, label: null, rows: PA, err: null, shape: 'circle', color: PURPLE, keyLine: PURPLE, r: 4.5, filled: true, lw: 1 },
];

const CHART_STYLE: Record<Shape, { pointStyle: string; rotation: number }> = {
  circle: { pointStyle: 'circle', rotation: 0 },
  triDown: { pointStyle: 'triangle', rotation: 180 },
  diamond: { pointStyle: 'rectRot', rotation: 0 },
  square: { pointStyle: 'rect', rotation: 0 },
};

function rowsToPoints(s: Series) {
  return s.rows.map((r) => {
    if (s.err === 'lohi' && r.length >= 4) return { x: r[0], y: r[1], lo: r[2], hi: r[3] };
    if (s.err === 'pm' && r.length >= 3) return { x: r[0], y: r[1], lo: r[1] - r[2], hi: r[1] + r[2] };
    return { x: r[0], y: r[1] };
  });
}

function drawMarker(ctx: CanvasRenderingContext2D, shape: Shape, x: number, y: number, r: number, color: string, filled: boolean, lw: number) {
  ctx.save();
  ctx.beginPath();
  if (shape === 'circle') ctx.arc(x, y, r, 0, Math.PI * 2);
  else if (shape === 'triDown') {
    ctx.moveTo(x, y + r);
    ctx.lineTo(x - r * 0.866, y - r * 0.5);
    ctx.lineTo(x + r * 0.866, y - r * 0.5);
    ctx.closePath();
  } else if (shape === 'diamond') {
    ctx.moveTo(x, y - r);
    ctx.lineTo(x + r, y);
    ctx.lineTo(x, y + r);
    ctx.lineTo(x - r, y);
    ctx.closePath();
  } else {
    const h = r * Math.SQRT1_2;
    ctx.rect(x - h, y - h, 2 * h, 2 * h);
  }
  if (filled) {
    ctx.fillStyle = color;
    ctx.fill();
  } else {
    ctx.fillStyle = '#fff';
    ctx.fill();
  }
  ctx.strokeStyle = color;
  ctx.lineWidth = lw;
  ctx.stroke();
  ctx.restore();
}

function seg(ctx: CanvasRenderingContext2D, x1: number, y1: number, x2: number, y2: number) {
  ctx.beginPath();
  ctx.moveTo(x1, y1);
  ctx.lineTo(x2, y2);
  ctx.stroke();
}

function drawRich(ctx: CanvasRenderingContext2D, segs: Seg[], xBase: number, yCenter: number) {
  ctx.save();
  ctx.translate(xBase, yCenter);
  ctx.rotate(-Math.PI / 2);
  ctx.textAlign = 'left';
  ctx.textBaseline = 'alphabetic';
  ctx.fillStyle = '#000';
  let total = 0;
  const widths = segs.map((s) => {
    ctx.font = `${s.s ? 18 : FS}px ${FONT}`;
    const w = ctx.measureText(s.t).width;
    total += w;
    return w;
  });
  let cx = -total / 2;
  segs.forEach((s, i) => {
    ctx.font = `${s.s ? 18 : FS}px ${FONT}`;
    ctx.fillText(s.t, cx, s.s ? -11 : 0);
    cx += widths[i];
  });
  ctx.restore();
}

const decorPlugin = {
  id: 'decor',
  beforeDatasetsDraw(chart: any) {
    const ctx: CanvasRenderingContext2D = chart.ctx;
    const xs = chart.scales.x;
    const area = chart.chartArea;
    const p0 = chart.scales.p0;
    ctx.save();
    const xa = xs.getPixelForValue(LAT_BAND_START);
    ctx.strokeStyle = '#8c8c8c';
    ctx.lineWidth = 2;
    seg(ctx, xa, p0.getPixelForValue(LAT_MEAN), area.right, p0.getPixelForValue(LAT_MEAN));
    ctx.strokeStyle = '#000';
    ctx.lineWidth = 1.2;
    ctx.setLineDash([6, 5]);
    seg(ctx, xa, p0.getPixelForValue(LAT_UPPER), area.right, p0.getPixelForValue(LAT_UPPER));
    seg(ctx, xa, p0.getPixelForValue(LAT_LOWER), area.right, p0.getPixelForValue(LAT_LOWER));
    ctx.restore();

    chart.data.datasets.forEach((ds: any) => {
      if (!ds.errBars) return;
      const ys = chart.scales[ds.yAxisID];
      ctx.save();
      ctx.beginPath();
      ctx.rect(area.left, ys.top, area.right - area.left, ys.bottom - ys.top);
      ctx.clip();
      ctx.strokeStyle = ds.borderColor;
      ctx.lineWidth = 1.5;
      ds.data.forEach((p: any) => {
        if (p.lo === undefined) return;
        const px = xs.getPixelForValue(p.x);
        seg(ctx, px, ys.getPixelForValue(p.lo), px, ys.getPixelForValue(p.hi));
      });
      ctx.restore();
    });
  },
  afterDatasetsDraw(chart: any) {
    const ctx: CanvasRenderingContext2D = chart.ctx;
    const xs = chart.scales.x;
    const area = chart.chartArea;
    const MAJ = 8;
    const MIN = 4;
    ctx.save();
    ctx.strokeStyle = '#000';
    ctx.lineWidth = 1.5;
    const minorX: number[] = [];
    for (let v = X_MIN + X_MINOR_STEP; v < X_MAX; v += X_MINOR_STEP) if (!X_MAJOR.includes(v)) minorX.push(v);
    PANELS.forEach((p, i) => {
      const ys = chart.scales[p.id];
      X_MAJOR.forEach((v) => {
        const px = xs.getPixelForValue(v);
        if (i > 0) seg(ctx, px, ys.top, px, ys.top + MAJ);
        seg(ctx, px, ys.bottom, px, ys.bottom - MAJ);
      });
      minorX.forEach((v) => {
        const px = xs.getPixelForValue(v);
        if (i > 0) seg(ctx, px, ys.top, px, ys.top + MIN);
        seg(ctx, px, ys.bottom, px, ys.bottom - MIN);
      });
      p.major.forEach((v) => {
        const py = ys.getPixelForValue(v);
        seg(ctx, area.left, py, area.left + MAJ, py);
        seg(ctx, area.right, py, area.right - MAJ, py);
      });
      p.minor.forEach((v) => {
        const py = ys.getPixelForValue(v);
        seg(ctx, area.left, py, area.left + MIN, py);
        seg(ctx, area.right, py, area.right - MIN, py);
      });
    });
    YEAR_TICKS.forEach((yr) => {
      const px = xs.getPixelForValue(MJD_2017 + (yr - 2017) * 365.25);
      seg(ctx, px, area.top, px, area.top - 8);
    });
    // frame + panel separators
    ctx.lineWidth = 2;
    ctx.strokeRect(area.left, area.top, area.right - area.left, area.bottom - area.top);
    PANELS.forEach((p, i) => {
      if (i === 0) return;
      const ys = chart.scales[p.id];
      seg(ctx, area.left, ys.top, area.right, ys.top);
    });

    // segment labels
    const p0 = chart.scales.p0;
    ctx.fillStyle = '#000';
    ctx.font = `bold ${FS}px ${FONT}`;
    ctx.textAlign = 'center';
    ctx.textBaseline = 'middle';
    SEG_LABELS.forEach((t, i) => {
      ctx.fillText(t, xs.getPixelForValue(SEG_LABEL_MJD[i]), p0.getPixelForValue(SEG_LABEL_Y));
    });

    // legends
    PANELS.forEach((p, i) => {
      const ys = chart.scales[p.id];
      const entries = SERIES.filter((s) => s.panel === i && s.label);
      entries.forEach((s, k) => {
        const y = ys.top + 21 + 25.5 * k;
        ctx.font = `${FS}px ${FONT}`;
        ctx.textAlign = 'right';
        ctx.textBaseline = 'middle';
        ctx.fillStyle = '#000';
        ctx.fillText(s.label as string, area.right - 115, y + 1);
        ctx.strokeStyle = s.keyLine;
        ctx.lineWidth = 1.5;
        seg(ctx, area.right - 99, y, area.right - 31, y);
        drawMarker(ctx, s.shape, area.right - 65, y, s.r, s.color, s.filled, s.lw);
      });
    });

    // y titles
    PANELS.forEach((p) => {
      const ys = chart.scales[p.id];
      const yc = (ys.top + ys.bottom) / 2;
      if (p.title.length === 2) {
        drawRich(ctx, p.title[0], 35, yc);
        drawRich(ctx, p.title[1], 62, yc);
      } else {
        drawRich(ctx, p.title[0], 40, yc);
      }
    });

    // x title
    ctx.font = `${FS}px ${FONT}`;
    ctx.textAlign = 'center';
    ctx.textBaseline = 'middle';
    ctx.fillStyle = '#000';
    ctx.fillText('MJD', (area.left + area.right) / 2, 1338);

    // segment boundaries
    ctx.strokeStyle = '#000';
    ctx.lineWidth = 2.5;
    ctx.setLineDash([4, 4]);
    SEG_BOUNDS.forEach((v) => {
      const px = xs.getPixelForValue(v);
      seg(ctx, px, area.top, px, area.bottom);
    });
    ctx.restore();
  },
};

export default function App() {
  const ref = useRef<HTMLCanvasElement | null>(null);
  useEffect(() => {
    document.body.style.margin = '0';
    const canvas = ref.current;
    if (!canvas) return;

    const datasets = SERIES.map((s) => {
      const st = CHART_STYLE[s.shape];
      return {
        label: s.label || '',
        data: rowsToPoints(s),
        yAxisID: PANELS[s.panel].id,
        xAxisID: 'x',
        showLine: false,
        pointStyle: st.pointStyle,
        rotation: st.rotation,
        pointRadius: s.r,
        pointBorderWidth: s.lw,
        borderColor: s.color,
        backgroundColor: s.filled ? s.color : 'rgba(0,0,0,0)',
        pointBackgroundColor: s.filled ? s.color : 'rgba(0,0,0,0)',
        pointBorderColor: s.color,
        clip: false,
        errBars: s.err !== null,
      };
    });

    const tickFont = { family: FONT, size: FS };
    const scales: any = {
      x: {
        type: 'linear', position: 'bottom', min: X_MIN, max: X_MAX,
        grid: { display: false, drawTicks: false }, border: { display: false },
        ticks: { font: tickFont, color: '#000', padding: 17, autoSkip: false, maxRotation: 0, callback: (v: number) => String(v) },
        afterBuildTicks: (ax: any) => { ax.ticks = X_MAJOR.map((v) => ({ value: v })); },
        afterFit: (ax: any) => { ax.height = H - 1270; },
      },
      xTop: {
        type: 'linear', position: 'top', min: X_MIN, max: X_MAX,
        grid: { display: false, drawTicks: false }, border: { display: false },
        ticks: { font: tickFont, color: '#000', padding: 15, autoSkip: false, maxRotation: 0,
          callback: (_v: number, i: number) => YEAR_TICKS[i].toFixed(2) },
        afterBuildTicks: (ax: any) => { ax.ticks = YEAR_TICKS.map((yr) => ({ value: MJD_2017 + (yr - 2017) * 365.25 })); },
        afterFit: (ax: any) => { ax.height = 45; },
      },
    };
    PANELS.forEach((p, i) => {
      scales[p.id] = {
        type: 'linear', position: 'left', stack: 'panels', stackWeight: 1, weight: PANELS.length - i,
        min: p.min, max: p.max,
        grid: { display: false, drawTicks: false }, border: { display: false },
        ticks: { font: tickFont, color: '#000', padding: 14, autoSkip: false, callback: (v: number) => String(v) },
        afterBuildTicks: (ax: any) => { ax.ticks = p.major.map((v) => ({ value: v })); },
        afterFit: (ax: any) => { ax.width = 117; },
      };
    });

    const chart = new Chart(canvas, {
      type: 'scatter',
      data: { datasets } as any,
      options: {
        responsive: false,
        animation: false,
        devicePixelRatio: 1,
        events: [],
        layout: { autoPadding: false, padding: { left: 0, right: 3, top: 0, bottom: 0 } },
        plugins: { legend: { display: false }, tooltip: { enabled: false }, title: { display: false } },
        scales,
      } as any,
      plugins: [decorPlugin as any],
    });
    return () => chart.destroy();
  }, []);

  return (
    <div style={{ width: W, height: H, background: '#fff' }}>
      <canvas ref={ref} width={W} height={H} style={{ display: 'block', width: W, height: H }} />
    </div>
  );
}
